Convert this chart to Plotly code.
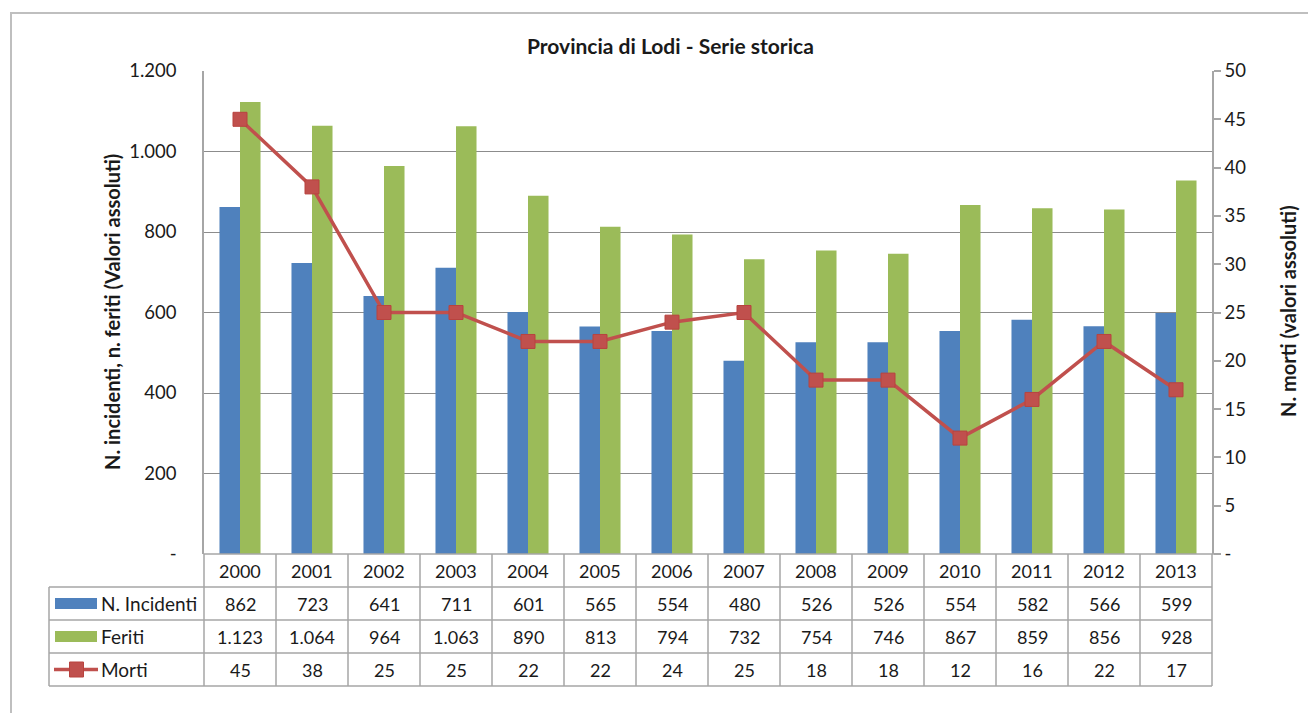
import plotly.graph_objects as go

years = ["2000", "2001", "2002", "2003", "2004", "2005", "2006",
         "2007", "2008", "2009", "2010", "2011", "2012", "2013"]
incidenti = [862, 723, 641, 711, 601, 565, 554, 480, 526, 526, 554, 582, 566, 599]
feriti = [1123, 1064, 964, 1063, 890, 813, 794, 732, 754, 746, 867, 859, 856, 928]
morti = [45, 38, 25, 25, 22, 22, 24, 25, 18, 18, 12, 16, 22, 17]

left_tickvals = [0, 200, 400, 600, 800, 1000, 1200]
left_ticktext = ["-", "200", "400", "600", "800", "1.000", "1.200"]
right_tickvals = [0, 5, 10, 15, 20, 25, 30, 35, 40, 45, 50]
right_ticktext = ["-", "5", "10", "15", "20", "25", "30", "35", "40", "45", "50"]

series_names = ["N. Incidenti", "Feriti", "Morti"]
title_text = "Provincia di Lodi - Serie storica"
ytitle_left = "N. incidenti, n. feriti (Valori assoluti)"
ytitle_right = "N. morti (valori assoluti)"

BLUE = "#4F81BD"
GREEN = "#9BBB59"
RED = "#C0504D"
GRID = "#8C8C8C"
TABLE = "#A6A6A6"
FONT = "Lato, 'Open Sans', sans-serif"
TXT = "#1a1a1a"

# the page body has an 8px margin: work in screen pixels and subtract it
OFF = 8
W, H = 1316 - OFF, 713 - OFF
L, R, T, B = 204, 1212, 71, 554  # screen pixels of the plot area


def px(x):
    return (x - L) / (R - L)


def py(y):
    return (B - y) / (B - T)


def fmt(v):
    return f"{v:,}".replace(",", ".")


fig = go.Figure()
fig.add_trace(go.Bar(x=years, y=incidenti, name=series_names[0],
                     marker=dict(color=BLUE, line=dict(width=0))))
fig.add_trace(go.Bar(x=years, y=feriti, name=series_names[1],
                     marker=dict(color=GREEN, line=dict(width=0))))
fig.add_trace(go.Scatter(x=years, y=morti, name=series_names[2], yaxis="y2",
                         mode="lines+markers",
                         line=dict(color=RED, width=3.5),
                         marker=dict(symbol="square", size=14, color=RED,
                                     line=dict(color="#B8433F", width=1))))

shapes = []
annotations = []

# outer border
shapes.append(dict(type="rect", xref="paper", yref="paper",
                   x0=px(11), x1=px(1330), y0=py(730), y1=py(13),
                   line=dict(color="#BFBFBF", width=2), layer="below"))

# table grid
row_tops = [554, 587, 620, 653, 686]
col_w = (R - L) / len(years)
shapes.append(dict(type="line", xref="paper", yref="paper",
                   x0=px(L), x1=px(1220), y0=py(554), y1=py(554),
                   line=dict(color=TABLE, width=1.5)))
for yy in row_tops[1:]:
    shapes.append(dict(type="line", xref="paper", yref="paper",
                       x0=px(49), x1=px(R), y0=py(yy), y1=py(yy),
                       line=dict(color=TABLE, width=1.5)))
for i in range(len(years) + 1):
    xx = L + i * col_w
    shapes.append(dict(type="line", xref="paper", yref="paper",
                       x0=px(xx), x1=px(xx), y0=py(554), y1=py(686),
                       line=dict(color=TABLE, width=1.5)))
shapes.append(dict(type="line", xref="paper", yref="paper",
                   x0=px(49), x1=px(49), y0=py(587), y1=py(686),
                   line=dict(color=TABLE, width=1.5)))

# legend keys
shapes.append(dict(type="rect", xref="paper", yref="paper",
                   x0=px(55), x1=px(97), y0=py(609), y1=py(598),
                   fillcolor=BLUE, line=dict(width=0)))
shapes.append(dict(type="rect", xref="paper", yref="paper",
                   x0=px(55), x1=px(97), y0=py(642), y1=py(631),
                   fillcolor=GREEN, line=dict(width=0)))
shapes.append(dict(type="line", xref="paper", yref="paper",
                   x0=px(54), x1=px(98), y0=py(669.5), y1=py(669.5),
                   line=dict(color=RED, width=3.5)))
shapes.append(dict(type="rect", xref="paper", yref="paper",
                   x0=px(69.5), x1=px(83.5), y0=py(677), y1=py(662),
                   fillcolor=RED, line=dict(color="#B8433F", width=1)))

row_centers = [570.5, 603.5, 636.5, 669.5]
for name, yc in zip(series_names, row_centers[1:]):
    annotations.append(dict(xref="paper", yref="paper", x=px(99), y=py(yc),
                            text=name, showarrow=False, xanchor="left",
                            yanchor="middle",
                            font=dict(family=FONT, size=19, color=TXT)))

rows = [years, [fmt(v) for v in incidenti], [fmt(v) for v in feriti],
        [fmt(v) for v in morti]]
for vals, yc in zip(rows, row_centers):
    for i, v in enumerate(vals):
        annotations.append(dict(xref="x", yref="paper", x=i, y=py(yc),
                                text=str(v), showarrow=False,
                                xanchor="center", yanchor="middle",
                                font=dict(family=FONT, size=18, color=TXT)))

# title & axis titles
annotations.append(dict(xref="paper", yref="paper", x=px(670), y=py(45),
                        text=f"<b>{title_text}</b>", showarrow=False,
                        xanchor="center", yanchor="middle",
                        font=dict(family=FONT, size=21, color=TXT)))
annotations.append(dict(xref="paper", yref="paper", x=px(112), y=py(312),
                        text=f"<b>{ytitle_left}</b>", showarrow=False,
                        textangle=-90, xanchor="center", yanchor="middle",
                        font=dict(family=FONT, size=20, color=TXT)))
annotations.append(dict(xref="paper", yref="paper", x=px(1288), y=py(311),
                        text=f"<b>{ytitle_right}</b>", showarrow=False,
                        textangle=-90, xanchor="center", yanchor="middle",
                        font=dict(family=FONT, size=20, color=TXT)))

fig.update_layout(
    width=W, height=H,
    margin=dict(l=L - OFF, r=W - (R - OFF), t=T - OFF, b=H - (B - OFF), pad=0),
    paper_bgcolor="white", plot_bgcolor="white",
    showlegend=False,
    barmode="group", bargap=0.43, bargroupgap=0,
    font=dict(family=FONT, size=16, color=TXT),
    xaxis=dict(type="category", range=[-0.5, len(years) - 0.5],
               showticklabels=False, showgrid=False, zeroline=False,
               showline=False, ticks=""),
    yaxis=dict(range=[0, 1200], tickvals=left_tickvals, ticktext=left_ticktext,
               showgrid=True, gridcolor=GRID, gridwidth=1, zeroline=False,
               showline=True, linecolor=TABLE, linewidth=1.5,
               ticks="outside", ticklen=22, tickcolor="rgba(0,0,0,0)",
               tickfont=dict(family=FONT, size=18.5, color=TXT)),
    yaxis2=dict(range=[0, 50], overlaying="y", side="right",
                tickvals=right_tickvals, ticktext=right_ticktext,
                showgrid=False, zeroline=False,
                showline=True, linecolor=TABLE, linewidth=1.5,
                ticks="outside", ticklen=7, tickcolor=TABLE, tickwidth=1.5,
                tickfont=dict(family=FONT, size=18.5, color=TXT)),
    shapes=shapes, annotations=annotations,
)

fig.write_html("out.html")
